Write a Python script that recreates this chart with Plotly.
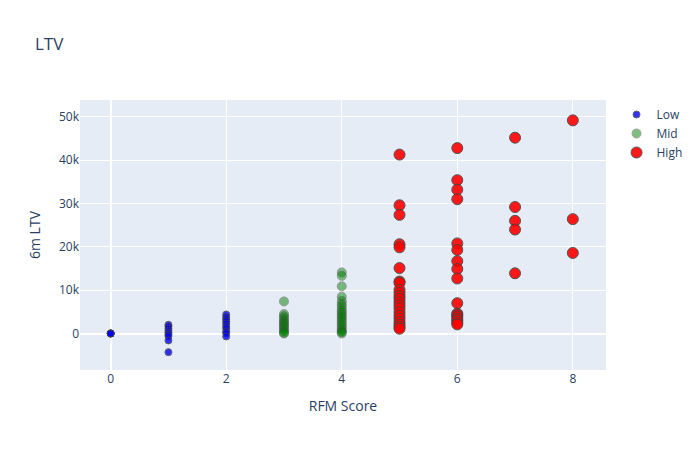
import plotly.graph_objects as go

# Low segment (RFM score 0-2)
low_score = [0, 0, 0, 0, 0,
             1, 1, 1, 1, 1, 1, 1, 1, 1,
             2, 2, 2, 2, 2, 2, 2, 2, 2, 2]
low_ltv = [0, 10, -10, 20, 5,
           2000, 1600, 1100, 600, 200, -200, -600, -1600, -4300,
           4400, 3800, 3300, 2800, 2300, 1700, 1200, 500, 100, -700]

# Mid segment (RFM score 3-4)
mid_score = [3] * 13 + [4] * 20
mid_ltv = [7400, 4500, 4000, 3500, 3000, 2600, 2200, 1800, 1400, 1000, 600, 200, 0,
           14100, 13300, 10900, 8500, 7500, 6800, 6200, 5500, 5000, 4500,
           4000, 3500, 3000, 2500, 2000, 1500, 1000, 600, 300, 0]

# High segment (RFM score 5+)
high_score = [5] * 22 + [6] * 17 + [7] * 5 + [8] * 3
high_ltv = [41300, 29600, 27400, 20600, 19900, 15100, 12000, 11700, 10100, 9400,
            8600, 8000, 7200, 6500, 5800, 4900, 4100, 3400, 2600, 2000, 1500, 1100,
            42800, 35400, 33200, 31000, 20800, 19300, 16700, 14900, 12700,
            7000, 4600, 4300, 3900, 3400, 3000, 2500, 2100,
            45200, 29200, 26000, 24000, 13900,
            49200, 26400, 18600]

fig = go.Figure()
fig.add_trace(go.Scatter(x=low_score, y=low_ltv, mode="markers", name="Low",
                         marker=dict(size=7, line=dict(width=1), color="blue", opacity=0.8)))
fig.add_trace(go.Scatter(x=mid_score, y=mid_ltv, mode="markers", name="Mid",
                         marker=dict(size=9, line=dict(width=1), color="green", opacity=0.5)))
fig.add_trace(go.Scatter(x=high_score, y=high_ltv, mode="markers", name="High",
                         marker=dict(size=11, line=dict(width=1), color="red", opacity=0.9)))
fig.update_layout(title="LTV", xaxis_title="RFM Score", yaxis_title="6m LTV",
                  width=700, height=450)
fig.write_html("out.html", config={"displayModeBar": False},
               post_script="document.body.style.margin='0px';")
